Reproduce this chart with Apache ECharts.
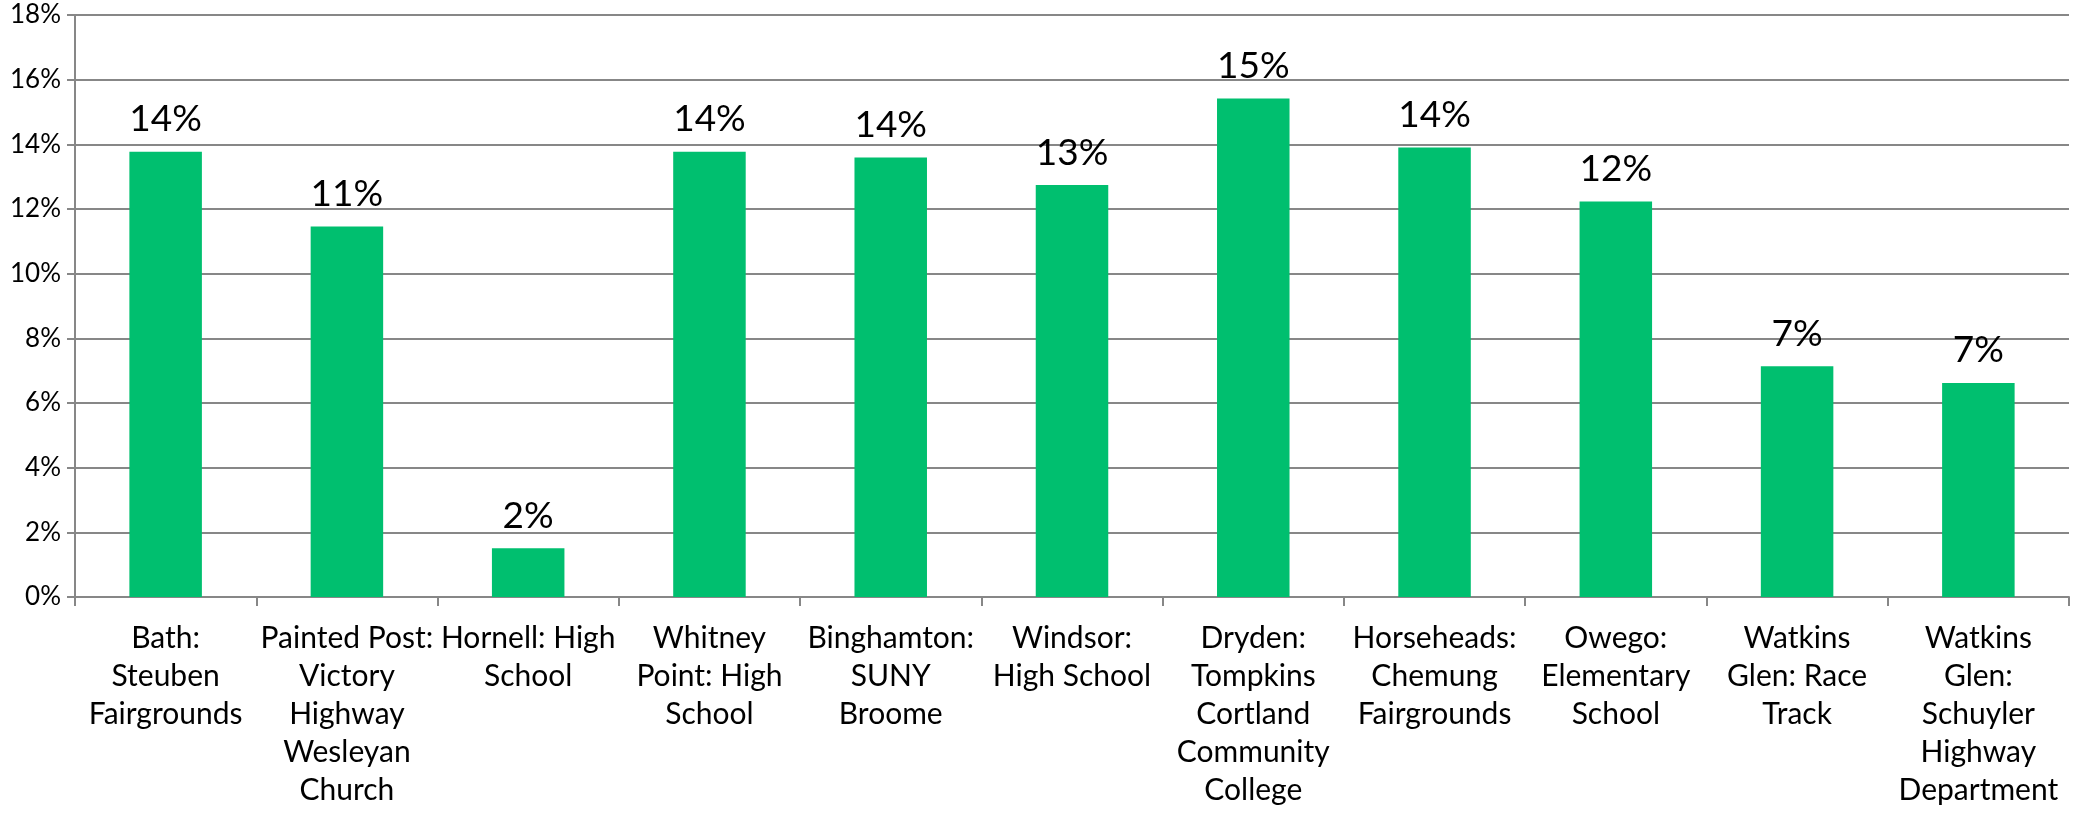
<!DOCTYPE html>
<html>
<head>
<meta charset="utf-8">
<script src="https://cdn.jsdelivr.net/npm/echarts@6/dist/echarts.min.js"></script>
<style>
html,body{margin:0;padding:0;background:#fff;}
#chart{width:2073px;height:815px;}
</style>
</head>
<body>
<div id="chart"></div>
<script>
const categories = [
  "Bath:\nSteuben\nFairgrounds",
  "Painted Post:\nVictory\nHighway\nWesleyan\nChurch",
  "Hornell: High\nSchool",
  "Whitney\nPoint: High\nSchool",
  "Binghamton:\nSUNY\nBroome",
  "Windsor:\nHigh School",
  "Dryden:\nTompkins\nCortland\nCommunity\nCollege",
  "Horseheads:\nChemung\nFairgrounds",
  "Owego:\nElementary\nSchool",
  "Watkins\nGlen: Race\nTrack",
  "Watkins\nGlen:\nSchuyler\nHighway\nDepartment"
];
const values = [13.77, 11.46, 1.51, 13.77, 13.59, 12.74, 15.42, 13.9, 12.23, 7.14, 6.62];
const yTicks = { min: 0, max: 18, interval: 2 };

const FONT = 'Lato';
const chart = echarts.init(document.getElementById('chart'));
chart.setOption({
  animation: false,
  backgroundColor: '#ffffff',
  grid: { left: 75, right: 4, top: 15, bottom: 218, containLabel: false },
  xAxis: {
    type: 'category',
    data: categories,
    axisLine: { lineStyle: { color: '#878787', width: 2 } },
    axisTick: { show: true, length: 9, lineStyle: { color: '#878787', width: 2 } },
    axisLabel: {
      interval: 0, fontFamily: FONT, fontSize: 30, color: '#000000',
      lineHeight: 38, margin: 22, align: 'center'
    },
    splitLine: { show: false }
  },
  yAxis: {
    type: 'value',
    min: yTicks.min, max: yTicks.max, interval: yTicks.interval,
    axisLine: { show: true, lineStyle: { color: '#878787', width: 2 } },
    axisTick: { show: true, length: 8, lineStyle: { color: '#878787', width: 2 } },
    axisLabel: { formatter: '{value}%', fontFamily: FONT, fontSize: 26, color: '#000000', margin: 14 },
    splitLine: { show: true, lineStyle: { color: '#878787', width: 2 } }
  },
  series: [{
    type: 'bar',
    data: values,
    barWidth: '40%',
    itemStyle: { color: '#00BF6F' },
    label: {
      show: true, position: 'top', distance: 14,
      fontFamily: FONT, fontSize: 37, color: '#000000',
      formatter: p => Math.round(p.value) + '%'
    }
  }]
});
</script>
</body>
</html>
